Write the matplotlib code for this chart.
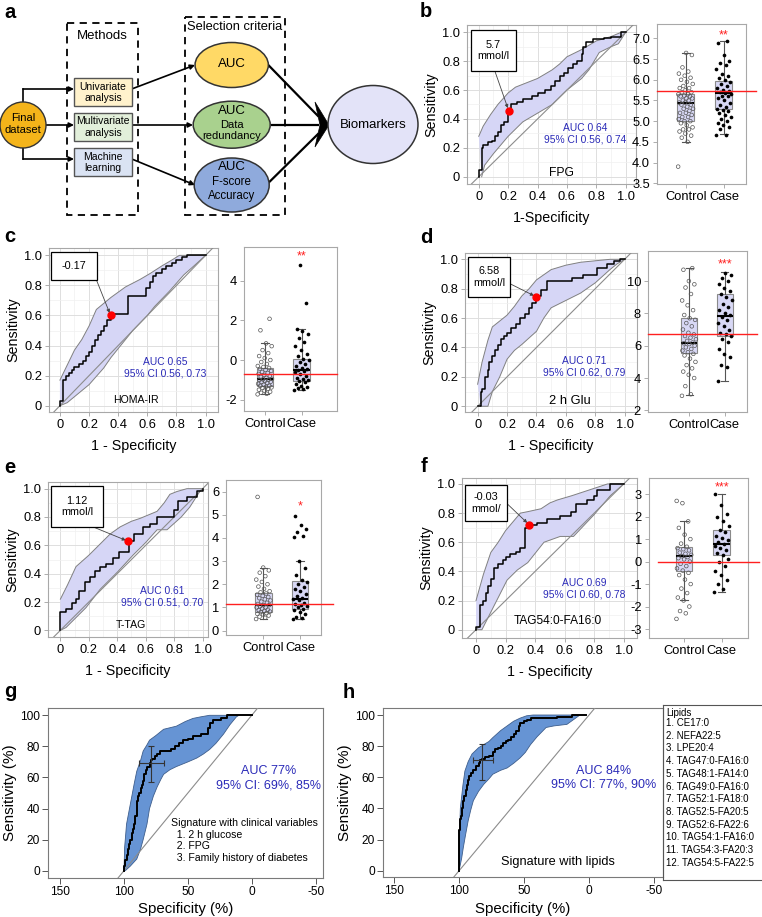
import numpy as np
import matplotlib
matplotlib.use("Agg")
import matplotlib.pyplot as plt
from matplotlib.patches import Rectangle, Ellipse, Circle, Polygon

plt.rcParams['font.family'] = ['Liberation Sans', 'DejaVu Sans']

# ---------------- datos ----------------
roc_ticks = [0, 0.2, 0.4, 0.6, 0.8, 1.0]
roc_labels = ["0", "0.2", "0.4", "0.6", "0.8", "1.0"]
groups = ["Control", "Case"]

# b: FPG
b_roc = [(0, 0), (0.02, 0.05), (0.03, 0.2), (0.06, 0.22), (0.09, 0.24), (0.11, 0.25), (0.13, 0.28),
         (0.15, 0.31), (0.17, 0.36), (0.2, 0.38), (0.22, 0.46), (0.26, 0.5), (0.3, 0.52), (0.36, 0.54),
         (0.4, 0.56), (0.45, 0.58), (0.49, 0.6), (0.52, 0.63), (0.55, 0.66), (0.58, 0.7), (0.61, 0.72),
         (0.64, 0.75), (0.67, 0.78), (0.7, 0.8), (0.71, 0.85), (0.73, 0.9), (0.78, 0.93), (0.85, 0.95),
         (0.9, 0.96), (0.97, 0.97), (1.0, 1.0)]
b_hi = [(0, 0.28), (0.03, 0.35), (0.08, 0.43), (0.13, 0.5), (0.2, 0.58), (0.25, 0.62), (0.3, 0.64),
        (0.4, 0.68), (0.5, 0.74), (0.55, 0.78), (0.6, 0.83), (0.7, 0.88), (0.8, 0.94), (0.9, 0.97),
        (0.97, 1.0), (1, 1)]
b_lo = [(0.02, 0), (0.04, 0.08), (0.1, 0.16), (0.15, 0.22), (0.2, 0.28), (0.25, 0.33), (0.3, 0.38),
        (0.4, 0.44), (0.5, 0.5), (0.6, 0.6), (0.7, 0.68), (0.75, 0.74), (0.82, 0.86), (0.9, 0.9),
        (0.95, 0.92), (1, 1)]
b_best = (0.204, 0.457)
b_thr = "5.7\nmmol/l"
b_auc = "AUC 0.64\n95% CI 0.56, 0.74"
b_name = "FPG"
b_ctrl = [3.9, 4.5, 4.6, 4.65, 4.7, 4.75, 4.8, 4.8, 4.85, 4.9, 4.95, 5.0, 5.0, 5.05, 5.1, 5.1, 5.15,
          5.2, 5.2, 5.25, 5.3, 5.3, 5.35, 5.4, 5.4, 5.45, 5.45, 5.5, 5.5, 5.55, 5.55, 5.6, 5.6, 5.62,
          5.65, 5.65, 5.7, 5.7, 5.75, 5.8, 5.8, 5.85, 5.9, 5.95, 6.0, 6.05, 6.1, 6.15, 6.2, 6.3, 6.6, 6.65]
b_case = [4.67, 4.67, 4.8, 4.85, 4.9, 4.95, 5.0, 5.05, 5.1, 5.15, 5.2, 5.25, 5.28, 5.3, 5.35, 5.4,
          5.45, 5.5, 5.55, 5.6, 5.62, 5.65, 5.68, 5.7, 5.72, 5.75, 5.8, 5.85, 5.9, 5.95, 6.0, 6.05,
          6.1, 6.15, 6.25, 6.35, 6.4, 6.45, 6.6, 6.9, 6.93]
b_ctrl_box = [4.5, 5.0, 5.44, 5.66, 6.66]
b_case_box = [4.68, 5.29, 5.68, 5.97, 6.94]
b_cut = 5.72
b_sig = "**"
b_yticks = [3.5, 4.0, 4.5, 5.0, 5.5, 6.0, 6.5, 7.0]

# c: HOMA-IR
c_roc = [(0, 0), (0.02, 0.03), (0.04, 0.17), (0.06, 0.2), (0.08, 0.22), (0.1, 0.24), (0.13, 0.26),
         (0.16, 0.28), (0.18, 0.3), (0.2, 0.33), (0.22, 0.36), (0.24, 0.4), (0.26, 0.44), (0.28, 0.47),
         (0.3, 0.5), (0.32, 0.53), (0.35, 0.57), (0.47, 0.61), (0.59, 0.73), (0.62, 0.78), (0.64, 0.82),
         (0.66, 0.86), (0.7, 0.88), (0.73, 0.91), (0.77, 0.93), (0.8, 0.95), (0.84, 0.97), (0.87, 0.99),
         (1.0, 1.0)]
c_hi = [(0, 0.17), (0.05, 0.27), (0.1, 0.37), (0.15, 0.44), (0.2, 0.53), (0.25, 0.64), (0.3, 0.68),
        (0.35, 0.72), (0.45, 0.79), (0.55, 0.84), (0.62, 0.88), (0.7, 0.93), (0.77, 0.97), (0.82, 1.0), (1, 1)]
c_lo = [(0, 0), (0.05, 0.02), (0.1, 0.06), (0.2, 0.14), (0.3, 0.25), (0.35, 0.32), (0.4, 0.38),
        (0.5, 0.5), (0.6, 0.6), (0.65, 0.66), (0.75, 0.76), (0.85, 0.87), (0.92, 0.93), (1, 1)]
c_best = (0.348, 0.6)
c_thr = "-0.17"
c_auc = "AUC 0.65\n95% CI 0.56, 0.73"
c_name = "HOMA-IR"
c_ctrl = [-1.73, -1.7, -1.65, -1.6, -1.55, -1.5, -1.45, -1.4, -1.38, -1.35, -1.3, -1.3, -1.25, -1.2,
          -1.15, -1.1, -1.1, -1.05, -1.0, -1.0, -0.98, -0.95, -0.9, -0.85, -0.8, -0.75, -0.7, -0.65,
          -0.6, -0.55, -0.5, -0.45, -0.4, -0.35, -0.3, -0.2, -0.1, 0.0, 0.1, 0.2, 0.35, 0.5, 0.7, 0.84,
          1.5, 2.08]
c_case = [-1.52, -1.45, -1.4, -1.35, -1.3, -1.2, -1.1, -1.05, -1.0, -0.95, -0.9, -0.8, -0.7, -0.6,
          -0.55, -0.5, -0.45, -0.4, -0.3, -0.2, -0.1, 0.0, 0.05, 0.2, 0.3, 0.5, 0.7, 0.9, 1.1, 1.3,
          1.45, 1.55, 2.9, 4.8]
c_ctrl_box = [-1.73, -1.3, -0.98, -0.39, 0.84]
c_case_box = [-1.52, -1.06, -0.52, 0.03, 1.55]
c_cut = -0.72
c_sig = "**"
c_yticks = [-2, 0, 2, 4]

# d: 2 h Glu
d_roc = [(0, 0), (0.02, 0.0), (0.03, 0.1), (0.05, 0.12), (0.07, 0.2), (0.08, 0.25), (0.1, 0.3),
         (0.12, 0.34), (0.14, 0.38), (0.16, 0.42), (0.18, 0.46), (0.2, 0.48), (0.23, 0.5), (0.26, 0.53),
         (0.29, 0.56), (0.32, 0.6), (0.35, 0.63), (0.37, 0.67), (0.4, 0.7), (0.43, 0.75), (0.47, 0.79),
         (0.6, 0.85), (0.64, 0.85), (0.72, 0.87), (0.81, 0.89), (0.88, 0.94), (0.93, 0.97), (0.97, 0.99),
         (1.0, 1.0)]
d_hi = [(0, 0.15), (0.03, 0.3), (0.07, 0.45), (0.1, 0.54), (0.15, 0.58), (0.2, 0.62), (0.25, 0.68),
        (0.3, 0.75), (0.35, 0.8), (0.4, 0.86), (0.5, 0.93), (0.6, 0.96), (0.7, 0.98), (0.8, 0.99),
        (0.9, 1.0), (1, 1)]
d_lo = [(0.02, 0), (0.07, 0), (0.1, 0.1), (0.15, 0.2), (0.2, 0.32), (0.25, 0.38), (0.3, 0.42),
        (0.4, 0.51), (0.45, 0.6), (0.5, 0.67), (0.6, 0.72), (0.7, 0.77), (0.8, 0.84), (0.9, 0.93),
        (0.95, 0.97), (1, 1)]
d_best = (0.4, 0.744)
d_thr = "6.58\nmmol/l"
d_auc = "AUC 0.71\n95% CI 0.62, 0.79"
d_name = "2 h Glu"
d_ctrl = [2.9, 3.0, 3.5, 4.0, 4.2, 4.4, 4.6, 4.8, 5.0, 5.2, 5.4, 5.5, 5.6, 5.7, 5.8, 5.9, 6.0, 6.1,
          6.15, 6.2, 6.3, 6.4, 6.5, 6.6, 6.7, 6.8, 7.0, 7.2, 7.4, 7.6, 7.7, 7.9, 8.2, 8.5, 8.8, 9.2,
          9.6, 9.8, 10.0, 10.7, 10.8]
d_case = [3.8, 4.7, 4.8, 5.3, 5.5, 5.8, 6.2, 6.4, 6.6, 6.7, 6.8, 7.0, 7.2, 7.4, 7.6, 7.8, 7.9, 8.0,
          8.2, 8.4, 8.6, 8.8, 9.0, 9.2, 9.4, 9.6, 9.8, 10.0, 10.2, 10.4, 10.5]
d_ctrl_box = [2.97, 5.52, 6.19, 7.69, 10.83]
d_case_box = [3.8, 6.6, 7.84, 9.17, 10.58]
d_cut = 6.7
d_sig = "***"
d_yticks = [2, 4, 6, 8, 10]

# e: T-TAG
e_roc = [(0, 0), (0.04, 0.13), (0.08, 0.15), (0.11, 0.19), (0.13, 0.22), (0.17, 0.28), (0.21, 0.34),
         (0.24, 0.38), (0.28, 0.42), (0.32, 0.45), (0.37, 0.47), (0.41, 0.51), (0.48, 0.55), (0.52, 0.63),
         (0.58, 0.68), (0.63, 0.73), (0.68, 0.75), (0.8, 0.8), (0.83, 0.85), (0.89, 0.91), (0.96, 0.94),
         (1.0, 0.98), (1.0, 1.0)]
e_hi = [(0, 0.22), (0.05, 0.32), (0.11, 0.45), (0.2, 0.53), (0.28, 0.61), (0.35, 0.68), (0.42, 0.73),
        (0.5, 0.77), (0.56, 0.79), (0.68, 0.84), (0.73, 0.9), (0.77, 0.96), (0.82, 0.98), (0.89, 1.0), (1, 1)]
e_lo = [(0, 0), (0.04, 0.02), (0.1, 0.08), (0.18, 0.16), (0.28, 0.29), (0.4, 0.41), (0.51, 0.53),
        (0.6, 0.62), (0.68, 0.71), (0.75, 0.71), (0.85, 0.8), (0.91, 0.87), (0.98, 0.98), (1, 1)]
e_best = (0.478, 0.628)
e_thr = "1.12\nmmol/l"
e_auc = "AUC 0.61\n95% CI 0.51, 0.70"
e_name = "T-TAG"
e_ctrl = [0.5, 0.55, 0.6, 0.65, 0.7, 0.72, 0.75, 0.8, 0.82, 0.85, 0.88, 0.9, 0.95, 1.0, 1.0, 1.05,
          1.1, 1.1, 1.15, 1.2, 1.25, 1.3, 1.35, 1.4, 1.45, 1.5, 1.55, 1.6, 1.65, 1.7, 1.8, 1.9, 2.0,
          2.1, 2.2, 2.35, 2.5, 2.6, 2.72, 5.77]
e_case = [0.49, 0.55, 0.6, 0.7, 0.8, 0.9, 0.95, 1.0, 1.05, 1.1, 1.15, 1.2, 1.3, 1.35, 1.4, 1.5, 1.6,
          1.7, 1.8, 1.9, 2.0, 2.1, 2.2, 2.4, 2.7, 3.0, 4.05, 4.1, 4.25, 4.4, 4.55, 4.95]
e_ctrl_box = [0.5, 0.82, 1.11, 1.64, 2.72]
e_case_box = [0.49, 0.94, 1.37, 2.12, 3.0]
e_cut = 1.15
e_sig = "*"
e_yticks = [0, 1, 2, 3, 4, 5, 6]

# f: TAG54:0-FA16:0
f_roc = [(0, 0), (0.03, 0.02), (0.05, 0.17), (0.07, 0.2), (0.08, 0.25), (0.1, 0.3), (0.12, 0.35),
         (0.15, 0.42), (0.18, 0.45), (0.2, 0.48), (0.23, 0.5), (0.27, 0.52), (0.3, 0.53), (0.33, 0.56),
         (0.36, 0.7), (0.41, 0.72), (0.48, 0.73), (0.57, 0.76), (0.64, 0.78), (0.68, 0.81), (0.75, 0.86),
         (0.8, 0.89), (0.82, 0.92), (0.91, 0.96), (1.0, 1.0)]
f_hi = [(0, 0.2), (0.05, 0.38), (0.1, 0.53), (0.15, 0.6), (0.2, 0.68), (0.3, 0.8), (0.35, 0.81),
        (0.44, 0.83), (0.5, 0.87), (0.55, 0.89), (0.65, 0.92), (0.71, 0.94), (0.8, 0.97), (0.89, 1.0), (1, 1)]
f_lo = [(0, 0), (0.04, 0), (0.08, 0.08), (0.12, 0.16), (0.21, 0.34), (0.28, 0.41), (0.35, 0.46),
        (0.46, 0.6), (0.57, 0.64), (0.66, 0.64), (0.8, 0.79), (0.91, 0.92), (1, 1)]
f_best = (0.36, 0.72)
f_thr = "-0.03\nmmol/"
f_auc = "AUC 0.69\n95% CI 0.60, 0.78"
f_name = "TAG54:0-FA16:0"
f_ctrl = [-2.55, -2.3, -2.2, -2.0, -1.73, -1.6, -1.4, -1.2, -1.0, -0.8, -0.6, -0.5, -0.4, -0.3, -0.2,
          -0.1, 0.0, 0.1, 0.15, 0.2, 0.24, 0.3, 0.35, 0.4, 0.5, 0.55, 0.6, 0.66, 0.8, 1.0, 1.2, 1.5,
          1.79, 2.6, 2.7]
f_case = [-1.37, -1.2, -1.0, -0.8, -0.6, -0.4, -0.2, 0.0, 0.1, 0.3, 0.4, 0.5, 0.6, 0.7, 0.77, 0.85,
          0.95, 1.05, 1.15, 1.3, 1.4, 1.6, 1.8, 2.0, 2.1, 2.5, 3.0]
f_ctrl_box = [-1.73, -0.4, 0.24, 0.66, 1.79]
f_case_box = [-1.37, 0.3, 0.77, 1.4, 3.0]
f_cut = 0.0
f_sig = "***"
f_yticks = [-3, -2, -1, 0, 1, 2, 3]

# g, h: firmas (especificidad %, sensibilidad %)
spec_ticks = [150, 100, 50, 0, -50]
sens_ticks = [0, 20, 40, 60, 80, 100]
g_roc = [(100, 0), (99, 3), (98, 7), (97, 10), (96, 14), (95, 17), (94, 20), (93, 24), (92, 27),
         (91, 30), (90, 35), (89, 45), (88, 48), (87, 50), (86, 53), (85, 55), (84, 58), (83, 62),
         (82, 65), (80, 67), (79, 69), (78, 71), (76, 72), (74, 74), (72, 75), (70, 77), (63, 77),
         (60, 78), (57, 80), (54, 82), (50, 84), (46, 85), (40, 87), (34, 88), (33, 92), (30, 95),
         (24, 97), (19, 98), (15, 100), (0, 100)]
g_hi = [(100, 0), (99.5, 15), (98, 30), (95, 43), (92, 56), (90, 64), (87, 71), (85, 77), (82, 81),
        (80, 84), (75, 87), (69, 91), (64, 92), (59, 93), (52, 96), (46, 98), (40, 99), (33, 100), (10, 100)]
g_lo = [(100, 0), (99, 0), (95, 3), (90, 7.5), (87, 14), (85, 20), (82, 30), (80, 40), (77, 48),
        (74, 54), (71, 59), (69, 62), (64, 65), (59, 67), (50, 70), (43, 72.5), (38, 75), (33, 78),
        (28, 82), (22, 88), (17, 94), (12, 99), (10, 100)]
g_cross = (79, 69, 69, 88, 57, 80)
g_auc = "AUC 77%\n95% CI: 69%, 85%"
g_sig_text = "Signature with clinical variables\n  1. 2 h glucose\n  2. FPG\n  3. Family history of diabetes"

h_roc = [(100, 0), (100, 10), (99.5, 26), (98.5, 33), (98, 35), (97, 40), (96, 45), (95, 48), (94, 52),
         (93, 55), (92, 58), (91, 61), (89, 63), (87, 65), (85, 67), (84, 69), (82, 71), (80, 72),
         (77, 73), (74, 74), (72, 76), (70, 78), (68, 79), (66, 80), (64, 82), (62, 83), (60, 84),
         (58, 86), (56, 88), (54, 90), (53, 93), (50, 95), (48, 96), (45, 97), (40, 98), (25, 98),
         (22, 99), (13, 99), (12, 100), (2, 100)]
h_hi = [(100, 5), (99.5, 25), (99, 40), (97, 55), (95.5, 64), (93, 70), (90, 75), (85, 79), (81, 81),
        (77, 83), (74, 85.5), (68, 90), (63, 93), (58, 96), (53, 98), (48, 99.5), (43, 100), (7, 100)]
h_lo = [(100, 0), (98, 8), (96.7, 15), (95, 23), (93, 32), (91, 39), (89, 45), (85, 51), (81, 55.5),
        (77, 59), (74, 62), (68, 64.5), (63, 66), (58, 69), (53, 72.5), (49, 76), (45, 81), (40, 86),
        (33, 92), (27, 93), (17, 94), (12, 97), (7, 100)]
h_cross = (82, 71, 74, 89.5, 58, 81.5)
h_auc = "AUC 84%\n95% CI: 77%, 90%"
h_sig_text = "Signature with lipids"
lipids = ["CE17:0", "NEFA22:5", "LPE20:4", "TAG47:0-FA16:0", "TAG48:1-FA14:0", "TAG49:0-FA16:0",
          "TAG52:1-FA18:0", "TAG52:5-FA20:5", "TAG52:6-FA22:6", "TAG54:1-FA16:0", "TAG54:3-FA20:3",
          "TAG54:5-FA22:5"]

# ---------------- figura ----------------
W, H = 762, 917
fig = plt.figure(figsize=(W / 100, H / 100), dpi=100)

BLUE_TXT = '#2b2bb8'


def px_axes(x0, y0, x1, y1):
    return fig.add_axes([x0 / W, 1 - y1 / H, (x1 - x0) / W, (y1 - y0) / H])


def band(ax, hi, lo, face, edge, lw):
    hi = np.array(hi, dtype=float)
    lo = np.array(lo, dtype=float)
    poly = np.vstack([hi, lo[::-1]])
    ax.fill(poly[:, 0], poly[:, 1], color=face, lw=0, zorder=2)
    ax.plot(hi[:, 0], hi[:, 1], color=edge, lw=lw, zorder=3)
    ax.plot(lo[:, 0], lo[:, 1], color=edge, lw=lw, zorder=3)


def roc_panel(p):
    ax = px_axes(*p['rect'])
    ax.set_xlim(p['xlim'])
    ax.set_ylim(p['ylim'])
    ax.set_xticks(roc_ticks, roc_labels)
    ax.set_yticks(roc_ticks, roc_labels)
    minor = [0.1, 0.3, 0.5, 0.7, 0.9]
    ax.set_xticks(minor, minor=True)
    ax.set_yticks(minor, minor=True)
    ax.grid(which='major', color='#dedede', lw=0.7)
    ax.grid(which='minor', color='#f0f0f0', lw=0.5)
    ax.set_axisbelow(True)
    ax.tick_params(which='major', length=3, width=0.6, color='#a0a0a0', labelsize=9.3, pad=2)
    ax.tick_params(which='minor', length=0)
    for s in ax.spines.values():
        s.set_color('#a8a8a8')
        s.set_linewidth(0.8)

    band(ax, p['hi'], p['lo'], '#d6d6f6', '#808080', 0.7)
    ax.plot([-0.2, 1.2], [-0.2, 1.2], color='#8c8c8c', lw=0.8, zorder=3)
    r = np.array(p['roc'])
    ax.plot(r[:, 0], r[:, 1], drawstyle='steps-pre', color='black', lw=1.1, zorder=4)

    # caja del umbral
    bx0, by0, bx1, by1 = p['tbox']
    ax.add_patch(Rectangle((bx0, by0), bx1 - bx0, by1 - by0, facecolor='white',
                           edgecolor='black', lw=0.9, zorder=6, clip_on=False))
    ax.text((bx0 + bx1) / 2, (by0 + by1) / 2, p['thr'], ha='center', va='center',
            fontsize=7.8, linespacing=1.15, zorder=7)
    ax.annotate('', xy=p['best'], xytext=p['tail'], zorder=5,
                arrowprops=dict(arrowstyle='-|>', color='#444444', lw=0.6,
                                mutation_scale=5, shrinkA=0, shrinkB=2))
    ax.plot([p['best'][0]], [p['best'][1]], 'o', color='red', ms=5, zorder=8)

    ax.text(p['auc_xy'][0], p['auc_xy'][1], p['auc'], ha='center', va='center',
            fontsize=7.4, color=BLUE_TXT, zorder=7)
    ax.text(p['name_xy'][0], p['name_xy'][1], p['name'], ha='center', va='center',
            fontsize=p['name_size'], zorder=7)
    ax.set_ylabel('Sensitivity', fontsize=10.3, labelpad=3)
    ax.set_xlabel(p['xlabel'], fontsize=10.3, labelpad=6)


def box_panel(p):
    ax = px_axes(*p['rect'])
    stats = []
    for s in (p['ctrl_box'], p['case_box']):
        stats.append(dict(whislo=s[0], q1=s[1], med=s[2], q3=s[3], whishi=s[4], fliers=[]))
    ax.bxp(stats, positions=[1, 2], widths=0.45, patch_artist=True, showfliers=False,
           capwidths=[0.2, 0.2],
           boxprops=dict(facecolor='#d8d8f5', edgecolor='#8a8a8a', lw=0.8),
           medianprops=dict(color='black', lw=1.5),
           whiskerprops=dict(color='#555555', lw=0.8),
           capprops=dict(color='#555555', lw=0.8))

    # jitter fijo para los puntos
    for pos, vals, filled in ((1, p['ctrl'], False), (2, p['case'], True)):
        vals = np.array(vals)
        off = ((np.arange(len(vals)) * 0.6180339887) % 1 - 0.5) * 0.4
        if filled:
            ax.scatter(pos + off, vals, s=7, color='black', lw=0, zorder=4)
        else:
            ax.scatter(pos + off, vals, s=7, facecolors='none', edgecolors='#555555',
                       lw=0.5, zorder=4)

    ax.plot(p['span'], [p['cut'], p['cut']], transform=ax.get_yaxis_transform(),
            color='#ff2020', lw=1.0, clip_on=False, zorder=5)
    ax.text(2, p['star_y'], p['sig'], color='#ff2020', ha='center', va='center', fontsize=9)

    ax.set_xlim(p['xlim'])
    ax.set_ylim(p['ylim'])
    ax.set_xticks([1, 2], groups)
    ax.set_yticks(p['yticks'], p['ylabels'])
    ax.tick_params(length=3, width=0.6, color='#a0a0a0', labelsize=9.3, pad=2)
    for s in ax.spines.values():
        s.set_color('#a8a8a8')
        s.set_linewidth(0.8)


def spec_panel(p):
    ax = px_axes(*p['rect'])
    ax.set_xlim(p['xlim'])
    ax.set_ylim(p['ylim'])
    band(ax, p['hi'], p['lo'], '#6694d4', '#3e5e8c', 0.6)
    ax.plot([110, -10], [-10, 110], color='#8c8c8c', lw=0.8, zorder=3)
    r = np.array(p['roc'])
    ax.plot(r[:, 0], r[:, 1], drawstyle='steps-pre', color='black', lw=1.4, zorder=4)
    cx, cy, x0, x1, y0, y1 = p['cross']
    ax.errorbar([cx], [cy], xerr=[[cx - x0], [x1 - cx]], yerr=[[cy - y0], [y1 - cy]],
                fmt='none', ecolor='#333333', elinewidth=0.8, capsize=2, capthick=0.8, zorder=5)
    ax.text(p['auc_xy'][0], p['auc_xy'][1], p['auc'], ha='center', va='center',
            fontsize=9, color=BLUE_TXT)
    ax.text(p['sig_xy'][0], p['sig_xy'][1], p['sig_text'], ha=p['sig_ha'], va='center',
            fontsize=p['sig_size'], linespacing=1.2)
    ax.set_xticks(spec_ticks, [str(t) for t in spec_ticks])
    ax.set_yticks(sens_ticks, [str(t) for t in sens_ticks])
    ax.tick_params(length=4, width=0.7, color='#555555', labelsize=8.6, pad=2)
    for s in ax.spines.values():
        s.set_color('#7a7a7a')
        s.set_linewidth(0.8)
    ax.set_ylabel('Sensitivity (%)', fontsize=11, labelpad=2)
    ax.set_xlabel('Specificity (%)', fontsize=10.8, labelpad=3)


def fmt_ticks(ts, dec):
    if dec:
        return ['%.1f' % t for t in ts]
    return ['%d' % t for t in ts]


roc_panels = [
    dict(rect=(467, 25, 636, 184), xlim=(-0.08, 1.07), ylim=(-0.05, 1.05), roc=b_roc, hi=b_hi, lo=b_lo,
         best=b_best, thr=b_thr, tbox=(-0.056, 0.731, 0.256, 1.014), tail=(0.109, 0.733),
         auc=b_auc, auc_xy=(0.726, 0.298), name=b_name, name_xy=(0.56, 0.025), name_size=8.7,
         xlabel='1-Specificity'),
    dict(rect=(49, 248, 218, 412), xlim=(-0.075, 1.085), ylim=(-0.042, 1.049), roc=c_roc, hi=c_hi, lo=c_lo,
         best=c_best, thr=c_thr, tbox=(-0.06, 0.838, 0.256, 1.02), tail=(0.25, 0.838),
         auc=c_auc, auc_xy=(0.723, 0.25), name=c_name, name_xy=(0.524, 0.04), name_size=7.6,
         xlabel='1 - Specificity'),
    dict(rect=(465, 253, 637, 412), xlim=(-0.086, 1.084), ylim=(-0.039, 1.043), roc=d_roc, hi=d_hi, lo=d_lo,
         best=d_best, thr=d_thr, tbox=(-0.064, 0.744, 0.22, 1.016), tail=(0.22, 0.834),
         auc=d_auc, auc_xy=(0.725, 0.27), name=d_name, name_xy=(0.627, 0.034), name_size=9.3,
         xlabel='1 - Specificity'),
    dict(rect=(48, 482, 208, 637), xlim=(-0.087, 1.038), ylim=(-0.047, 1.047), roc=e_roc, hi=e_hi, lo=e_lo,
         best=e_best, thr=e_thr, tbox=(-0.064, 0.73, 0.30, 1.016), tail=(0.23, 0.73),
         auc=e_auc, auc_xy=(0.718, 0.24), name=e_name, name_xy=(0.494, 0.035), name_size=7.6,
         xlabel='1 - Specificity'),
    dict(rect=(462, 478, 637, 638), xlim=(-0.095, 1.09), ylim=(-0.057, 1.041), roc=f_roc, hi=f_hi, lo=f_lo,
         best=f_best, thr=f_thr, tbox=(-0.072, 0.744, 0.21, 0.995), tail=(0.21, 0.865),
         auc=f_auc, auc_xy=(0.734, 0.278), name=f_name, name_xy=(0.555, 0.057), name_size=8.6,
         xlabel='1 - Specificity'),
]
for p in roc_panels:
    roc_panel(p)

box_panels = [
    dict(rect=(657, 24, 746, 184), xlim=(0.245, 2.58), ylim=(3.48, 7.35), ctrl=b_ctrl, case=b_case,
         ctrl_box=b_ctrl_box, case_box=b_case_box, cut=b_cut, span=(0, 1.11), sig=b_sig, star_y=7.08,
         yticks=b_yticks, ylabels=fmt_ticks(b_yticks, True)),
    dict(rect=(244, 247, 337, 411), xlim=(0.43, 2.96), ylim=(-2.57, 5.7), ctrl=c_ctrl, case=c_case,
         ctrl_box=c_ctrl_box, case_box=c_case_box, cut=c_cut, span=(0, 1.0), sig=c_sig, star_y=5.2,
         yticks=c_yticks, ylabels=fmt_ticks(c_yticks, False)),
    dict(rect=(648, 251, 747, 412), xlim=(-0.15, 2.62), ylim=(1.9, 11.86), ctrl=d_ctrl, case=d_case,
         ctrl_box=d_ctrl_box, case_box=d_case_box, cut=d_cut, span=(0, 1.1), sig=d_sig, star_y=11.0,
         yticks=d_yticks, ylabels=fmt_ticks(d_yticks, False)),
    dict(rect=(226, 480, 321, 635), xlim=(-0.02, 2.57), ylim=(-0.19, 6.5), ctrl=e_ctrl, case=e_case,
         ctrl_box=e_ctrl_box, case_box=e_case_box, cut=e_cut, span=(0, 1.13), sig=e_sig, star_y=5.38,
         yticks=e_yticks, ylabels=fmt_ticks(e_yticks, False)),
    dict(rect=(649, 478, 748, 638), xlim=(0.07, 2.7), ylim=(-3.4, 3.72), ctrl=f_ctrl, case=f_case,
         ctrl_box=f_ctrl_box, case_box=f_case_box, cut=f_cut, span=(0.09, 1.11), sig=f_sig, star_y=3.3,
         yticks=f_yticks, ylabels=fmt_ticks(f_yticks, False)),
]
for p in box_panels:
    box_panel(p)

spec_panel(dict(rect=(48, 708, 323, 878), xlim=(159.5, -55.8), ylim=(-4.7, 104.7), roc=g_roc, hi=g_hi,
                lo=g_lo, cross=g_cross, auc=g_auc, auc_xy=(-13.5, 59.5), sig_text=g_sig_text,
                sig_xy=(63.4, 19.5), sig_ha='left', sig_size=7.6))
spec_panel(dict(rect=(383, 708, 663, 877), xlim=(158.5, -56.9), ylim=(-4.0, 104.5), roc=h_roc, hi=h_hi,
                lo=h_lo, cross=h_cross, auc=h_auc, auc_xy=(-11, 59.5), sig_text=h_sig_text,
                sig_xy=(23.8, 5.6), sig_ha='center', sig_size=9.2))

# ---------------- capa en pixeles: panel a, letras y leyenda ----------------
ov = fig.add_axes([0, 0, 1, 1])
ov.set_xlim(0, W)
ov.set_ylim(H, 0)
ov.axis('off')

for lab, x, y in [('a', 4, 18), ('b', 420, 17), ('c', 4, 242), ('d', 420, 243),
                  ('e', 4, 473), ('f', 421, 472), ('g', 4, 697), ('h', 343, 698)]:
    ov.text(x, y, lab, fontsize=14.5, fontweight='bold', va='baseline')


def arrow(x0, y0, x1, y1, lw=1.2, ms=7):
    ov.annotate('', xy=(x1, y1), xytext=(x0, y0), zorder=2,
                arrowprops=dict(arrowstyle='-|>', color='black', lw=lw, mutation_scale=ms,
                                shrinkA=0, shrinkB=0))


# cajas punteadas
ov.add_patch(Rectangle((66.7, 23), 71.6, 192, fill=False, ls=(0, (4, 3)), lw=1.3, ec='black'))
ov.add_patch(Rectangle((184.7, 17), 100.6, 198, fill=False, ls=(0, (4, 3)), lw=1.3, ec='black'))
ov.text(102, 36, 'Methods', ha='center', va='center', fontsize=9.5)
ov.text(235, 27, 'Selection criteria', ha='center', va='center', fontsize=9.3)

# dataset inicial
ov.add_patch(Circle((23, 125), 23, fc='#f4b41a', ec='#333333', lw=1.0, zorder=3))
ov.text(23, 124, 'Final\ndataset', ha='center', va='center', fontsize=8, zorder=4)
ov.plot([23, 23], [102, 89], color='black', lw=1.2)
arrow(23, 89, 74, 89)
arrow(46, 125, 74, 125)
ov.plot([23, 23], [148, 159], color='black', lw=1.2)
arrow(23, 159, 74, 159)

# metodos
for y0, txt, col in [(78.3, 'Univariate\nanalysis', '#fff2cc'),
                     (113.3, 'Multivariate\nanalysis', '#e2efda'),
                     (148.3, 'Machine\nlearning', '#dae3f3')]:
    ov.add_patch(Rectangle((74, y0), 58.3, 27.7, fc=col, ec='#555555', lw=1.0, zorder=3))
    ov.text(103, y0 + 14, txt, ha='center', va='center', fontsize=7.5, zorder=4)

arrow(133, 88.5, 195, 65)
arrow(133, 125, 193, 125)
arrow(133, 159.5, 195, 185)

# criterios
ov.add_patch(Ellipse((231.7, 65), 73.3, 45, fc='#ffd966', ec='#333333', lw=1.1, zorder=3))
ov.text(231.7, 64, 'AUC', ha='center', va='center', fontsize=9.5, zorder=4)
ov.add_patch(Ellipse((231.7, 124.7), 77, 47, fc='#a9d18e', ec='#333333', lw=1.1, zorder=3))
ov.text(231.7, 110.5, 'AUC', ha='center', va='center', fontsize=9.5, zorder=4)
ov.text(231.7, 130.5, 'Data\nredundancy', ha='center', va='center', fontsize=8, zorder=4)
ov.add_patch(Ellipse((231.7, 185), 75, 54, fc='#8faadc', ec='#333333', lw=1.1, zorder=3))
ov.text(231.7, 167, 'AUC', ha='center', va='center', fontsize=9.5, zorder=4)
ov.text(231.7, 182, 'F-score', ha='center', va='center', fontsize=8.3, zorder=4)
ov.text(231.7, 196, 'Accuracy', ha='center', va='center', fontsize=8.3, zorder=4)

ov.plot([268.3, 318], [65, 116], color='black', lw=1.6, zorder=2)
ov.plot([271.7, 318], [125, 125], color='black', lw=1.6, zorder=2)
ov.plot([268.3, 318], [183, 134], color='black', lw=1.6, zorder=2)
ov.add_patch(Polygon([(315, 102), (329, 125), (315, 147), (320, 125)], closed=True,
                     fc='black', ec='black', lw=0.5, zorder=3))

ov.add_patch(Ellipse((373, 124.5), 90, 78, fc='#e3e3f8', ec='#333333', lw=1.1, zorder=3))
ov.text(373, 124.5, 'Biomarkers', ha='center', va='center', fontsize=9.5, zorder=4)

# leyenda de lipidos (panel h)
ov.plot([663, 663], [705, 880], color='#555555', lw=0.8)
ov.plot([663, 762], [705, 705], color='#555555', lw=0.8)
ov.plot([663, 762], [880, 880], color='#555555', lw=0.8)
ov.text(666, 712.7, 'Lipids', fontsize=7, va='center')
for i, name in enumerate(lipids):
    ov.text(666, 723 + 12.7 * i, '%d. %s' % (i + 1, name), fontsize=7, va='center')

fig.savefig('out.png', dpi=100)
